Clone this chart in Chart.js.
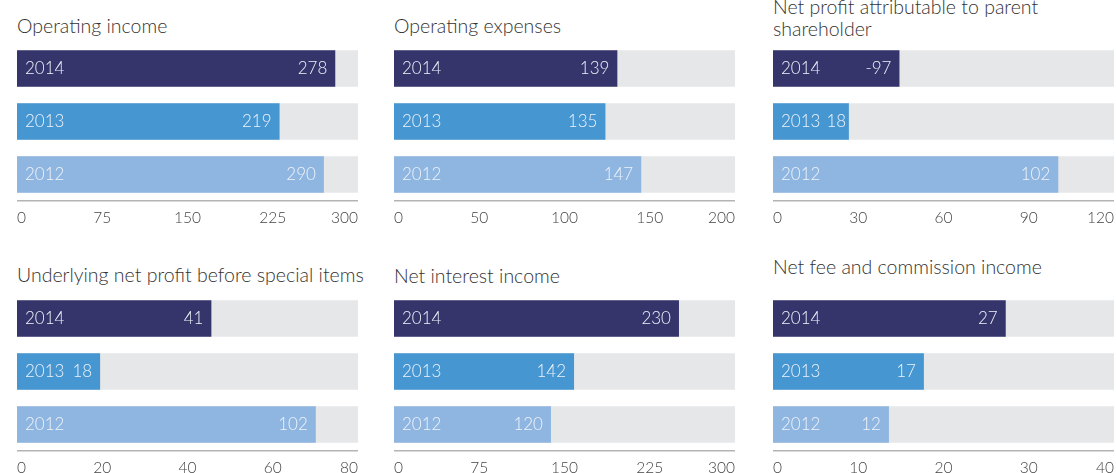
<!DOCTYPE html>
<html>
<head>
<meta charset="utf-8">
<script src="https://cdn.jsdelivr.net/npm/chart.js@4"></script>
<style>
  body { margin: 0; background: #fff; width: 1116px; height: 473px; overflow: hidden; position: relative; font-family: Lato, "Open Sans", sans-serif; }
  .title { position: absolute; font-size: 19.5px; font-weight: 300; color: #333; line-height: 21.5px; white-space: nowrap; }
  .panel { position: absolute; width: 341px; height: 185px; }
</style>
</head>
<body>
<div id="wrap"></div>
<script>
var years = ['2014', '2013', '2012']
var yearColors = ['#35346b', '#4696d2', '#8fb6e1']

var titles = [
  ['Operating income'],
  ['Operating expenses'],
  ['Net profit attributable to parent', 'shareholder'],
  ['Underlying net profit before special items'],
  ['Net interest income'],
  ['Net fee and commission income']
]

// figures printed in the bars
var operatingIncome = [278, 219, 290]
var operatingExpenses = [139, 135, 147]
var netProfitParent = [-97, 18, 102]
var underlyingProfit = [41, 18, 102]
var netInterest = [230, 142, 120]
var netFee = [27, 17, 12]

// bar lengths as drawn against each axis (the source does not always match its own figures)
var operatingIncomeBars = [280, 231, 270]
var operatingExpensesBars = [131, 124, 145]
var netProfitParentBars = [44.5, 26.7, 100.4]
var underlyingProfitBars = [45.6, 19.5, 70.1]
var netInterestBars = [250.7, 158.4, 138.1]
var netFeeBars = [27.3, 17.7, 13.6]

var axisMax = [300, 200, 120, 80, 300, 40]
var axisStep = [75, 50, 30, 20, 75, 10]

var printed = [operatingIncome, operatingExpenses, netProfitParent, underlyingProfit, netInterest, netFee]
var lengths = [operatingIncomeBars, operatingExpensesBars, netProfitParentBars, underlyingProfitBars, netInterestBars, netFeeBars]

var panelLeft = [17, 394, 773]
var panelTop = [42, 292]
var titleTop = [[14.5, 14.5, -4], [264, 265, 255.5]]

var barText = {
  id: 'barText',
  afterDatasetsDraw: function(chart) {
    var ctx = chart.ctx
    var meta = chart.getDatasetMeta(0)
    var shown = chart.options.plugins.barText.values
    ctx.save()
    ctx.font = '300 17px Lato, "Open Sans", sans-serif'
    ctx.fillStyle = '#eef3fa'
    ctx.textBaseline = 'middle'
    meta.data.forEach(function(bar, i) {
      var yearEnd = bar.base + 8 + ctx.measureText(years[i]).width
      var label = String(shown[i])
      var right = Math.max(bar.x - 8, yearEnd + 6 + ctx.measureText(label).width)
      ctx.textAlign = 'left'
      ctx.fillText(years[i], bar.base + 8, bar.y)
      ctx.textAlign = 'right'
      ctx.fillText(label, right, bar.y)
    })
    ctx.restore()
  }
}

var wrap = document.getElementById('wrap')

for (var p = 0; p < 6; p++) {
  var row = Math.floor(p / 3), col = p % 3

  var t = document.createElement('div')
  t.className = 'title'
  t.style.left = panelLeft[col] + 'px'
  t.style.top = titleTop[row][col] + 'px'
  t.innerHTML = titles[p].join('<br>')
  wrap.appendChild(t)

  var box = document.createElement('div')
  box.className = 'panel'
  box.style.left = panelLeft[col] + 'px'
  box.style.top = panelTop[row] + 'px'
  var cv = document.createElement('canvas')
  box.appendChild(cv)
  wrap.appendChild(box)

  new Chart(cv.getContext('2d'), {
    type: 'bar',
    data: {
      labels: years,
      datasets: [{
        data: lengths[p],
        backgroundColor: yearColors,
        grouped: false,
        order: 0,
        categoryPercentage: 1,
        barPercentage: 0.69
      }, {
        data: years.map(function() { return axisMax[p] }),
        backgroundColor: '#e6e7e9',
        grouped: false,
        order: 1,
        categoryPercentage: 1,
        barPercentage: 0.69
      }]
    },
    options: {
      indexAxis: 'y',
      responsive: true,
      maintainAspectRatio: false,
      animation: false,
      layout: { padding: 0, autoPadding: false },
      plugins: {
        legend: { display: false },
        tooltip: { enabled: false },
        barText: { values: printed[p] }
      },
      scales: {
        y: { display: false },
        x: {
          min: 0,
          max: axisMax[p],
          grid: { display: false, drawTicks: false },
          border: { display: true, color: '#b4b4b4', width: 1.5 },
          ticks: {
            stepSize: axisStep[p],
            align: 'inner',
            padding: 8,
            color: '#444',
            font: { family: 'Lato, "Open Sans", sans-serif', size: 15.5, weight: '300' }
          },
          afterFit: function(scale) {
            scale.height = 26
            scale.paddingLeft = 0
            scale.paddingRight = 0
          }
        }
      }
    },
    plugins: [barText]
  })
}
</script>
</body>
</html>
